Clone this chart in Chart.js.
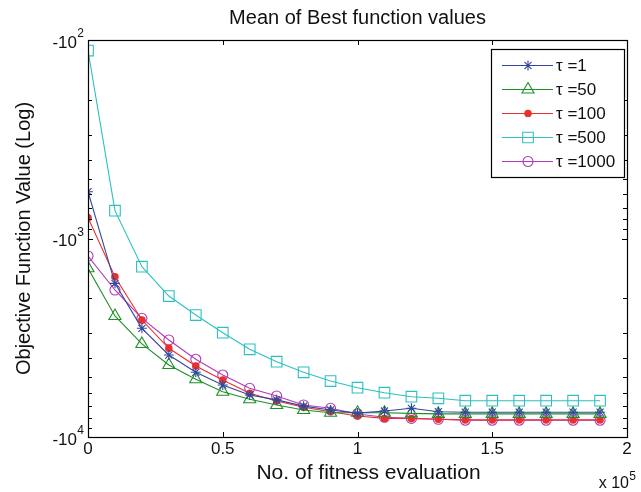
<!DOCTYPE html>
<html lang="en">
<head>
<meta charset="UTF-8">
<title>Mean of Best function values</title>
<script src="https://cdn.jsdelivr.net/npm/chart.js"></script>
<style>
  html, body { margin: 0; padding: 0; background: #fff; }
  canvas { display: block; }
</style>
</head>
<body>
<canvas id="bestChart" width="641" height="492"></canvas>
<script>
// fitness evaluations (x) and mean best objective values per tau setting
const evaluations = [0, 10000, 20000, 30000, 40000, 50000, 60000, 70000, 80000, 90000,
  100000, 110000, 120000, 130000, 140000, 150000, 160000, 170000, 180000, 190000];
const tau1 = [-581, -1682, -2834, -3863, -4722, -5470, -6143, -6500, -6990, -7311,
  -7580, -7400, -7170, -7458, -7500, -7500, -7500, -7500, -7500, -7500];
const tau50 = [-1413, -2457, -3398, -4338, -5120, -5912, -6457, -6897, -7311, -7550,
  -7550, -7550, -7600, -7650, -7650, -7650, -7650, -7650, -7650, -7650];
const tau100 = [-786, -1557, -2574, -3574, -4388, -5163, -6025, -6587, -7087, -7458,
  -7838, -8060, -8060, -8144, -8200, -8200, -8200, -8200, -8200, -8200];
const tau500 = [-113, -724, -1387, -1949, -2430, -2983, -3616, -4175, -4722, -5224,
  -5645, -5982, -6266, -6383, -6565, -6565, -6565, -6565, -6565, -6565];
const tau1000 = [-1225, -1817, -2524, -3246, -4060, -4873, -5685, -6215, -6897, -7170,
  -7656, -7955, -8060, -8144, -8230, -8230, -8230, -8230, -8230, -8230];

const seriesNames = ['\u03c4 =1', '\u03c4 =50', '\u03c4 =100', '\u03c4 =500', '\u03c4 =1000'];
const xTicks = [0, 50000, 100000, 150000, 200000];
const xTickLabels = ['0', '0.5', '1', '1.5', '2'];
const yDecades = [-100, -1000, -10000];
const yDecadeExps = ['2', '3', '4'];

const FONT = '"Liberation Sans", Arial, Helvetica, sans-serif';

// the log axis is drawn on |value|, largest magnitude at the bottom
function toPoints(values) {
  return values.map((v, i) => ({ x: evaluations[i], y: -v }));
}

const styles = [
  { color: '#33479f', pointStyle: 'star', radius: 5, fill: false },
  { color: '#1f8f28', pointStyle: 'triangle', radius: 7, fill: false },
  { color: '#e8312c', pointStyle: 'circle', radius: 3.2, fill: true },
  { color: '#2ec0c0', pointStyle: 'rect', radius: 7.5, fill: false },
  { color: '#b23ab8', pointStyle: 'circle', radius: 5, fill: false }
];

const seriesValues = [tau1, tau50, tau100, tau500, tau1000];

const datasets = seriesValues.map((vals, k) => ({
  label: seriesNames[k],
  data: toPoints(vals),
  borderColor: styles[k].color,
  backgroundColor: styles[k].fill ? styles[k].color : 'rgba(0,0,0,0)',
  pointBorderColor: styles[k].color,
  pointBackgroundColor: styles[k].fill ? styles[k].color : 'rgba(0,0,0,0)',
  pointStyle: styles[k].pointStyle,
  pointRadius: styles[k].radius,
  pointBorderWidth: 1.1,
  borderWidth: 1.1,
  tension: 0,
  fill: false
}));

// axes box, inward ticks, tick labels, titles and legend
const matlabFrame = {
  id: 'matlabFrame',
  afterDraw(chart) {
    const ctx = chart.ctx;
    const area = chart.chartArea;
    const xs = chart.scales.x;
    const ys = chart.scales.y;
    ctx.save();

    ctx.strokeStyle = '#000';
    ctx.lineWidth = 1.2;
    ctx.strokeRect(Math.round(area.left) + 0.5, Math.round(area.top) + 0.5,
      Math.round(area.right - area.left), Math.round(area.bottom - area.top));

    // x ticks (top and bottom, pointing in)
    ctx.lineWidth = 1;
    ctx.beginPath();
    xTicks.forEach(v => {
      const px = Math.round(xs.getPixelForValue(v)) + 0.5;
      ctx.moveTo(px, area.bottom); ctx.lineTo(px, area.bottom - 5);
      ctx.moveTo(px, area.top); ctx.lineTo(px, area.top + 5);
    });
    // y ticks: decades long, the rest short, on both sides
    for (let d = 100; d <= 10000; d *= 10) {
      for (let m = 1; m <= 9; m++) {
        const v = d * m;
        if (v > 10000) break;
        const py = Math.round(ys.getPixelForValue(v)) + 0.5;
        const len = m === 1 ? 5 : 4;
        ctx.moveTo(area.left, py); ctx.lineTo(area.left + len, py);
        ctx.moveTo(area.right, py); ctx.lineTo(area.right - len, py);
      }
    }
    ctx.stroke();

    ctx.fillStyle = '#111';
    // x tick labels
    ctx.font = '17px ' + FONT;
    ctx.textAlign = 'center';
    ctx.textBaseline = 'middle';
    xTicks.forEach((v, i) => {
      ctx.fillText(xTickLabels[i], xs.getPixelForValue(v), area.bottom + 12);
    });
    // x 10^5 multiplier
    ctx.textAlign = 'right';
    ctx.font = '12px ' + FONT;
    ctx.fillText('5', area.right + 9, area.bottom + 40);
    ctx.font = '16px ' + FONT;
    ctx.fillText('x 10', area.right + 2, area.bottom + 47);

    // y tick labels as -10^k
    yDecades.forEach((v, i) => {
      const py = ys.getPixelForValue(-v);
      ctx.font = '12px ' + FONT;
      ctx.textAlign = 'right';
      ctx.fillText(yDecadeExps[i], area.left - 4, py - 6);
      ctx.font = '17px ' + FONT;
      ctx.fillText('-10', area.left - 11, py + 3);
    });

    // titles
    ctx.textAlign = 'center';
    ctx.font = '20px ' + FONT;
    ctx.fillText('Mean of Best function values', (area.left + area.right) / 2, 18);
    ctx.font = '21px ' + FONT;
    ctx.fillText('No. of fitness evaluation', (area.left + area.right) / 2 + 11, 473);
    ctx.font = '20px ' + FONT;
    ctx.save();
    ctx.translate(24, (area.top + area.bottom) / 2);
    ctx.rotate(-Math.PI / 2);
    ctx.fillText('Objective Function Value (Log)', 0, 0);
    ctx.restore();

    // legend box
    const lx = 491, ly = 49, lw = 133, lh = 128;
    ctx.fillStyle = '#fff';
    ctx.fillRect(lx, ly, lw, lh);
    ctx.strokeStyle = '#000';
    ctx.lineWidth = 1.2;
    ctx.strokeRect(lx + 0.5, ly + 0.5, lw, lh);
    chart.data.datasets.forEach((ds, k) => {
      const ry = ly + 16 + k * 24;
      ctx.strokeStyle = ds.borderColor;
      ctx.lineWidth = 1.1;
      ctx.beginPath();
      ctx.moveTo(lx + 11, ry + 0.5);
      ctx.lineTo(lx + 62, ry + 0.5);
      ctx.stroke();
      ctx.fillStyle = ds.pointBackgroundColor;
      ctx.strokeStyle = ds.pointBorderColor;
      Chart.helpers.drawPoint(ctx, {
        pointStyle: ds.pointStyle, radius: ds.pointRadius, borderWidth: 1.1, rotation: 0
      }, lx + 37, ry + 0.5);
      ctx.fillStyle = '#111';
      ctx.font = '17px ' + FONT;
      ctx.textAlign = 'left';
      ctx.fillText(ds.label, lx + 65, ry + 1);
    });

    ctx.restore();
  }
};

new Chart(document.getElementById('bestChart'), {
  type: 'line',
  data: { datasets: datasets },
  options: {
    responsive: false,
    animation: false,
    layout: { padding: { left: 88, right: 14, top: 40, bottom: 55 } },
    plugins: {
      legend: { display: false },
      title: { display: false },
      tooltip: { enabled: false }
    },
    scales: {
      x: { type: 'linear', min: 0, max: 200000, display: false },
      y: { type: 'logarithmic', min: 100, max: 10000, reverse: true, display: false }
    }
  },
  plugins: [matlabFrame]
});
</script>
</body>
</html>
